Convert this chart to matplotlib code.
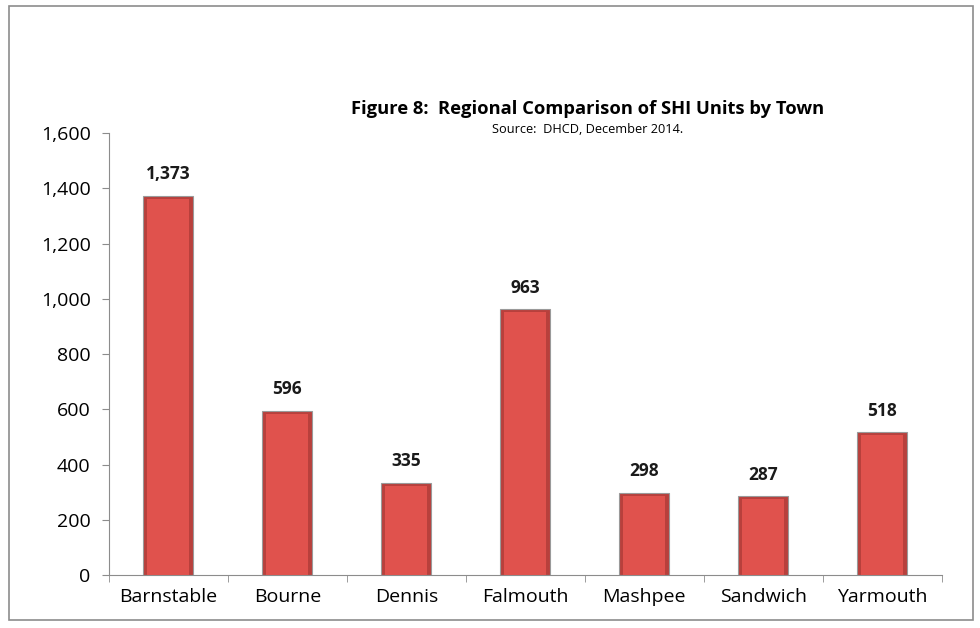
import matplotlib.pyplot as plt
from matplotlib.patches import Rectangle

# ---------------------------------------
# Data
# ---------------------------------------

towns = ["Barnstable", "Bourne", "Dennis", "Falmouth", "Mashpee", "Sandwich", "Yarmouth"]
units = [1373, 596, 335, 963, 298, 287, 518]
yticks = [0, 200, 400, 600, 800, 1000, 1200, 1400, 1600]

plt.rcParams["font.family"] = ["Open Sans", "DejaVu Sans"]

fig = plt.figure(figsize=(9.8, 6.28), dpi=100)

# outer chart border
fig.patches.append(Rectangle((0.009, 0.012), 0.984, 0.978, transform=fig.transFigure,
                             fill=False, edgecolor="#8c8c8c", linewidth=1.2))

ax = fig.add_axes([0.111, 0.084, 0.85, 0.704])

x = range(len(towns))

# bevelled bars: darker shell, lighter face
ax.bar(x, units, width=0.42, color="#b8403c", edgecolor="#9a9a9a", linewidth=0.8, zorder=2)
ax.bar(x, [u - 12 for u in units], width=0.35, color="#e0524d", zorder=3)

for i, v in enumerate(units):
    ax.text(i, v + 45, f"{v:,}", ha="center", va="bottom",
            fontsize=12.5, fontweight="bold", color="#1a1a1a")

ax.set_ylim(0, 1600)
ax.set_xlim(-0.5, len(towns) - 0.5)
ax.set_yticks(yticks)
ax.set_yticklabels([f"{t:,}" for t in yticks], fontsize=14)
ax.set_xticks(x)
ax.set_xticklabels(towns, fontsize=14)
ax.set_xticks([i + 0.5 for i in range(-1, len(towns))], minor=True)

ax.tick_params(axis="x", which="major", length=0, pad=9)
ax.tick_params(axis="x", which="minor", length=5, color="#8c8c8c", direction="out")
ax.tick_params(axis="y", length=5, color="#8c8c8c", direction="out", pad=8)

for side in ["top", "right"]:
    ax.spines[side].set_visible(False)
for side in ["left", "bottom"]:
    ax.spines[side].set_color("#8c8c8c")

fig.text(0.6, 0.827, "Figure 8:  Regional Comparison of SHI Units by Town",
         ha="center", va="center", fontsize=13.2, fontweight="bold")
fig.text(0.6, 0.793, "Source:  DHCD, December 2014.",
         ha="center", va="center", fontsize=9.2)

plt.savefig("out.png", dpi=100)
